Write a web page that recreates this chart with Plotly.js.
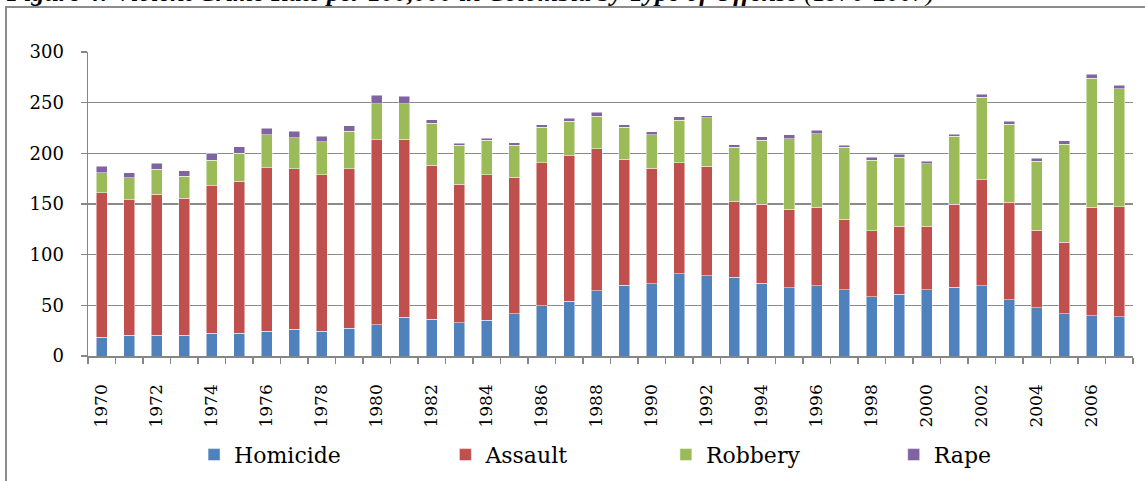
<!DOCTYPE html>
<html>
<head>
<meta charset="utf-8">
<script src="https://cdn.plot.ly/plotly-3.0.1.min.js"></script>
<style>
  html, body { margin: 0; padding: 0; width: 1145px; height: 481px; overflow: hidden; background: #fff; }
  #title { position: absolute; left: 7px; top: -20px; white-space: nowrap; font-family: "Liberation Serif", serif; font-size: 26px; line-height: 26px; color: #000; font-weight: bold; font-style: italic; }
  #title span { font-weight: normal; }
  #frame { position: absolute; left: 5px; top: 6px; width: 1300px; height: 600px; border: 2px solid #8c8c8c; box-sizing: border-box; pointer-events: none; z-index: 2; }
  #chart { position: absolute; left: 0; top: 0; width: 1145px; height: 481px; }
</style>
</head>
<body>
<div id="title">Figure 4: Violent Crime Rate per 100,000 in Colombia by Type of Offense <span>(1970-2007)</span></div>
<div id="frame"></div>
<div id="chart"></div>
<script>
const years = [1970,1971,1972,1973,1974,1975,1976,1977,1978,1979,
               1980,1981,1982,1983,1984,1985,1986,1987,1988,1989,
               1990,1991,1992,1993,1994,1995,1996,1997,1998,1999,
               2000,2001,2002,2003,2004,2005,2006,2007];
const homicide = [18.4,20.4,20.7,20.7,22.4,22.4,24.3,26.3,24.3,27.3,
                  30.6,38.2,36.5,32.9,35.2,41.8,49.7,53.9,64.5,69.7,
                  71.1,81.3,79.3,77.6,72.0,67.4,69.4,65.5,58.6,60.9,
                  65.5,67.8,69.4,55.6,47.7,41.8,39.8,38.8];
const assault = [142.5,133.6,138.8,135.2,145.4,150.3,161.6,158.6,154.6,157.6,
                 182.9,175.6,151.7,136.8,143.7,134.8,141.1,143.8,139.8,124.7,
                 114.4,109.2,108.2,75.0,78.0,77.6,77.6,69.7,64.8,67.1,
                 62.5,82.2,104.6,96.0,76.3,70.7,107.2,108.6];
const robbery = [19.7,21.7,24.7,21.4,25.6,27.6,32.5,30.6,32.6,36.8,
                 35.5,35.2,41.4,38.2,33.9,31.3,34.9,33.9,32.5,31.3,
                 32.9,42.1,47.4,53.3,62.8,69.5,72.4,70.7,70.0,68.0,
                 61.5,66.8,81.3,77.3,68.1,96.7,127.3,116.1];
const rape = [6.6,5.3,5.8,5.6,6.6,6.3,6.3,6.2,5.3,5.3,
              8.2,7.3,3.6,2.3,2.3,2.6,2.6,2.9,3.7,2.6,
              3.0,3.6,2.3,2.7,3.6,3.6,3.3,2.3,2.6,3.3,
              2.6,2.2,2.9,2.7,3.0,3.0,3.7,3.6];
const seriesNames = ["Homicide","Assault","Robbery","Rape"];
const seriesColors = ["#4F81BD","#C0504D","#9BBB59","#8064A2"];
const labelYears = years.filter(y => y % 2 === 0);
const labelText = labelYears.map(String);
const yTicks = [0,50,100,150,200,250,300];

const values = [homicide, assault, robbery, rape];
const legendIds = ["legend","legend2","legend3","legend4"];
const traces = values.map((v, i) => ({
  type: "bar",
  x: years,
  y: v,
  name: seriesNames[i],
  legend: legendIds[i],
  width: 0.4,
  marker: { color: seriesColors[i], line: { color: "rgba(255,255,255,0.65)", width: 0.75 } },
  hoverinfo: "x+y+name"
}));

const boundaries = years.map(y => y - 0.5).concat([years[years.length - 1] + 0.5]);
const legendFont = { family: "DejaVu Serif", size: 22, color: "#000" };
const legendX = [0.1015, 0.3420, 0.5530, 0.7710];
const legendCommon = (x) => ({
  x: x, y: -0.325, xanchor: "left", yanchor: "middle",
  orientation: "h", font: legendFont, bgcolor: "rgba(0,0,0,0)",
  borderwidth: 0, tracegroupgap: 0
});

const layout = {
  width: 1145, height: 481,
  margin: { l: 87.5, r: 12, t: 51.7, b: 125.3, autoexpand: false },
  paper_bgcolor: "rgba(0,0,0,0)",
  plot_bgcolor: "rgba(0,0,0,0)",
  barmode: "stack",
  showlegend: true,
  legend: legendCommon(legendX[0]),
  legend2: legendCommon(legendX[1]),
  legend3: legendCommon(legendX[2]),
  legend4: legendCommon(legendX[3]),
  xaxis: {
    type: "linear",
    range: [years[0] - 0.5, years[years.length - 1] + 0.5],
    tickmode: "array",
    tickvals: labelYears,
    ticktext: labelText,
    tickangle: -90,
    ticks: "",
    ticklabelstandoff: 20,
    tickfont: { family: "DejaVu Serif", size: 17, color: "#000" },
    showgrid: false,
    zeroline: false,
    showline: true,
    linecolor: "#868686",
    linewidth: 1.5,
    automargin: false,
    minor: { tickmode: "array", tickvals: boundaries, ticks: "outside", ticklen: 6, tickwidth: 1.5, tickcolor: "#868686", showgrid: false },
    fixedrange: true
  },
  yaxis: {
    range: [0, 300],
    tickmode: "array",
    tickvals: yTicks,
    ticktext: yTicks.map(String),
    ticks: "outside",
    ticklen: 6,
    tickwidth: 1.5,
    tickcolor: "#868686",
    ticklabelstandoff: 13,
    tickfont: { family: "DejaVu Serif", size: 18, color: "#000" },
    showgrid: true,
    gridcolor: "#8a8a8a",
    gridwidth: 1.5,
    zeroline: false,
    showline: true,
    linecolor: "#868686",
    linewidth: 1.5,
    automargin: false,
    fixedrange: true
  }
};

Plotly.newPlot("chart", traces, layout, { displayModeBar: false, staticPlot: true });
</script>
</body>
</html>
